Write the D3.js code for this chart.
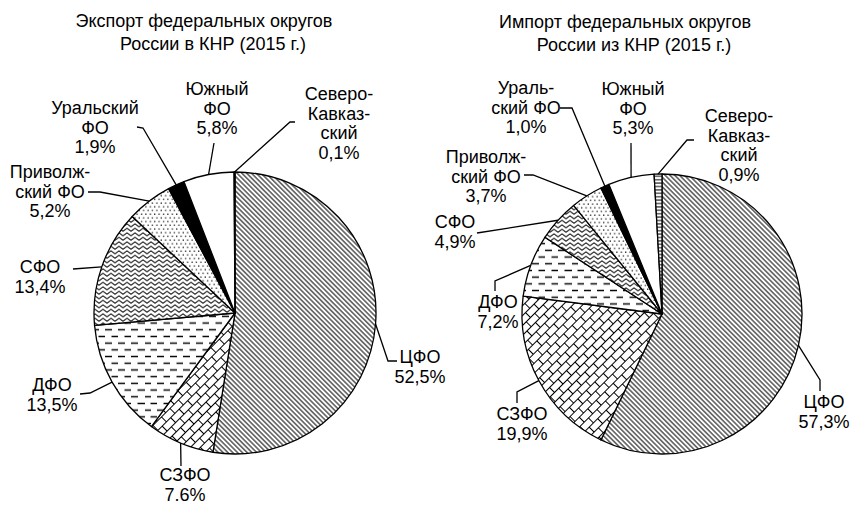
<!DOCTYPE html>
<html>
<head>
  <meta charset="utf-8">
  <title>Экспорт и импорт федеральных округов</title>
  <script src="https://d3js.org/d3.v7.min.js"></script>
  <style>
    body { margin: 0; background: #fff; }
    text { font-family: "Liberation Sans", Arial, sans-serif; font-size: 18px; fill: #000; }
  </style>
</head>
<body>
<div id="chart"></div>
<script>
  // данные (доли федеральных округов, %)
  const districts = ["ЦФО", "СЗФО", "ДФО", "СФО", "Приволжский ФО", "Уральский ФО", "Южный ФО", "Северо-Кавказский"];
  const exportShares = [52.5, 7.6, 13.5, 13.4, 5.2, 1.9, 5.8, 0.1];
  const importShares = [57.3, 19.9, 7.2, 4.9, 3.7, 1.0, 5.3, 0.9];

  const exportNames = [["ЦФО"], ["СЗФО"], ["ДФО"], ["СФО"], ["Приволж-", "ский ФО"], ["Уральский", "ФО"], ["Южный", "ФО"], ["Северо-", "Кавказ-", "ский"]];
  const importNames = [["ЦФО"], ["СЗФО"], ["ДФО"], ["СФО"], ["Приволж-", "ский ФО"], ["Ураль-", "ский ФО"], ["Южный", "ФО"], ["Северо-", "Кавказ-", "ский"]];
  const exportValueText = ["52,5%", "7.6%", "13,5%", "13,4%", "5,2%", "1,9%", "5,8%", "0,1%"];
  const importValueText = ["57,3%", "19,9%", "7,2%", "4,9%", "3,7%", "1,0%", "5,3%", "0,9%"];

  const exportTitle = ["Экспорт федеральных округов", "России в КНР (2015 г.)"];
  const importTitle = ["Импорт федеральных округов", "России из КНР (2015 г.)"];

  // расположение подписей: центр текста, первая базовая линия, изломы выносок
  const exportLayout = {
    cx: 235, cy: 313, r: 141,
    title: [[204, 27], [213, 50]],
    labels: [
      {x: 420, y: 363, leader: [[397, 361], [388, 361]]},
      {x: 185, y: 481, leader: [[181, 466]]},
      {x: 52, y: 391, leader: [[80, 394], [90, 393]]},
      {x: 40, y: 273, leader: [[73, 269]]},
      {x: 50, y: 178, leader: [[88, 192], [100, 192]]},
      {x: 95, y: 114, leader: [[137, 127], [143, 128]]},
      {x: 217, y: 95, leader: [[214, 143]]},
      {x: 339, y: 100, leader: [[295, 122], [290, 122]]}
    ]
  };
  const importLayout = {
    cx: 662, cy: 314, r: 140,
    title: [[625, 28], [634, 51]],
    labels: [
      {x: 824, y: 408, leader: [[820, 391], [820, 380]]},
      {x: 522, y: 420, leader: [[517, 403], [517, 392]]},
      {x: 498, y: 308, leader: [[495, 291], [495, 281]]},
      {x: 455, y: 228, leader: [[477, 233]]},
      {x: 486, y: 163, leader: [[524, 175], [533, 175]]},
      {x: 526, y: 94, leader: [[560, 108], [572, 108]]},
      {x: 633, y: 95, leader: [[631, 143]]},
      {x: 739, y: 122, leader: [[694, 140], [687, 140]]}
    ]
  };
  const lineHeight = 19.5;

  const svg = d3.select("#chart").append("svg")
    .attr("width", 854)
    .attr("height", 506);

  // штриховки
  const defs = svg.append("defs");
  function addPattern(id, w, h, transform, d, strokeWidth) {
    const p = defs.append("pattern")
      .attr("id", id)
      .attr("patternUnits", "userSpaceOnUse")
      .attr("width", w)
      .attr("height", h);
    if (transform) p.attr("patternTransform", transform);
    p.append("rect").attr("width", w).attr("height", h).attr("fill", "#fff");
    p.append("path").attr("d", d).attr("stroke", "#000").attr("stroke-width", strokeWidth).attr("fill", "none");
    return p;
  }
  addPattern("p-hatch", 3.4, 3.4, "rotate(-45)", "M1.7,0V3.4", 1);
  addPattern("p-brick", 12, 14, "rotate(-45)", "M0,0.5H12M0,7.5H12M0.5,0.5V7.5M6.5,7.5V14", 1);
  addPattern("p-dash", 13, 13.4, null, "M0,3.3H7M6.5,10H13", 1.5);
  addPattern("p-zig", 8, 4.5, null, "M0,3.8L4,0.8L8,3.8", 1);
  addPattern("p-lines", 4, 3.4, null, "M0,1.7H4", 1);
  const dots = addPattern("p-dots", 4.4, 7.4, null, "", 0);
  dots.append("rect").attr("x", 0.5).attr("y", 0.5).attr("width", 1.2).attr("height", 1.2).attr("fill", "#000");
  dots.append("rect").attr("x", 2.7).attr("y", 4.2).attr("width", 1.2).attr("height", 1.2).attr("fill", "#000");

  const fills = ["url(#p-hatch)", "url(#p-brick)", "url(#p-dash)", "url(#p-zig)", "url(#p-dots)", "#000", "#fff", "url(#p-lines)"];

  const pie = d3.pie().sort(null).value(d => d);

  function drawPie(shares, names, valueText, title, layout) {
    const arcs = pie(shares);
    const arc = d3.arc().innerRadius(0).outerRadius(layout.r);

    svg.append("g")
      .attr("transform", `translate(${layout.cx},${layout.cy})`)
      .selectAll("path")
      .data(arcs)
      .join("path")
      .attr("d", arc)
      .attr("fill", (d, i) => fills[i])
      .attr("stroke", "#000")
      .attr("stroke-width", 1.3)
      .attr("stroke-linejoin", "round");

    arcs.forEach((a, i) => {
      const lab = layout.labels[i];
      const mid = (a.startAngle + a.endAngle) / 2;
      const anchor = [layout.cx + layout.r * Math.sin(mid), layout.cy - layout.r * Math.cos(mid)];
      svg.append("path")
        .attr("d", d3.line()(lab.leader.concat([anchor])))
        .attr("fill", "none")
        .attr("stroke", "#000")
        .attr("stroke-width", 1.3);

      const t = svg.append("text").attr("text-anchor", "middle");
      names[i].concat([valueText[i]]).forEach((s, k) => {
        t.append("tspan").attr("x", lab.x).attr("y", lab.y + k * lineHeight).text(s);
      });
    });

    title.forEach((s, k) => {
      svg.append("text")
        .attr("text-anchor", "middle")
        .attr("x", layout.title[k][0])
        .attr("y", layout.title[k][1])
        .text(s);
    });
  }

  drawPie(exportShares, exportNames, exportValueText, exportTitle, exportLayout);
  drawPie(importShares, importNames, importValueText, importTitle, importLayout);
</script>
</body>
</html>
